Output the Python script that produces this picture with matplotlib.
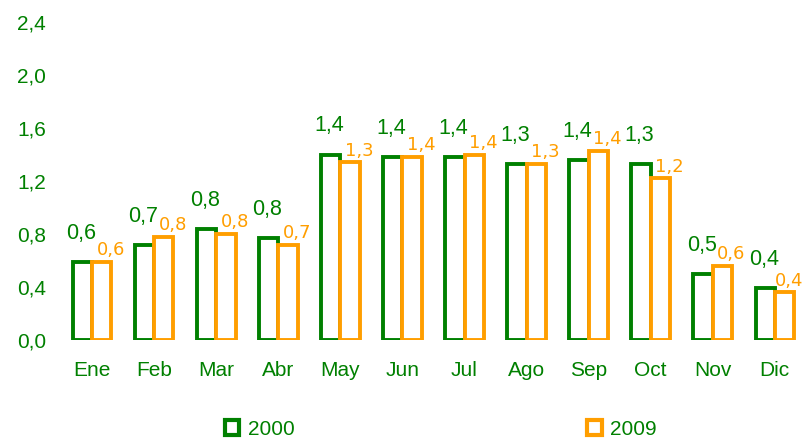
import matplotlib.pyplot as plt
import numpy as np
from matplotlib.patches import Patch

# Monthly values
meses = ["Ene", "Feb", "Mar", "Abr", "May", "Jun",
         "Jul", "Ago", "Sep", "Oct", "Nov", "Dic"]
v2000 = [0.59, 0.72, 0.84, 0.77, 1.40, 1.38, 1.38, 1.33, 1.36, 1.33, 0.50, 0.39]
v2009 = [0.59, 0.78, 0.80, 0.72, 1.34, 1.38, 1.40, 1.33, 1.43, 1.22, 0.56, 0.36]
yticks = [0.0, 0.4, 0.8, 1.2, 1.6, 2.0, 2.4]

VERDE = "#008000"
NARANJA = "#FF9E00"

fig = plt.figure(figsize=(8.05, 4.41), dpi=100)
ax = fig.add_axes([0.076, 0.229, 0.925, 0.721])

x = np.arange(len(meses))
w = 0.31
ax.bar(x - w / 2, v2000, w, facecolor="white", edgecolor=VERDE, linewidth=2.8)
ax.bar(x + w / 2, v2009, w, facecolor="white", edgecolor=NARANJA, linewidth=2.8)

def coma(v):
    return f"{v:.1f}".replace(".", ",")

for xi, a, b in zip(x, v2000, v2009):
    ax.annotate(coma(a), (xi - w / 2, a), xytext=(-1, 13), textcoords="offset points",
                ha="center", va="bottom", color=VERDE, fontsize=15.5,
                family="Liberation Sans")
    # last label sits against the right edge, like in the original
    dx = 3.5 if xi == x[-1] else 6.5
    ax.annotate(coma(b), (xi + w / 2, b), xytext=(dx, 2), textcoords="offset points",
                ha="center", va="bottom", color=NARANJA, fontsize=13,
                family="DejaVu Sans")

ax.set_xlim(-0.5, len(meses) - 0.5)
ax.set_ylim(0, 2.4)
ax.set_xticks(x)
ax.set_xticklabels(meses)
ax.set_yticks(yticks)
ax.set_yticklabels([coma(t) for t in yticks])
for lab in ax.get_xticklabels() + ax.get_yticklabels():
    lab.set_family("Liberation Sans")
    lab.set_fontsize(15)
    lab.set_color(VERDE)
ax.tick_params(axis="x", length=0, pad=15)
ax.tick_params(axis="y", length=0, pad=11)
for s in ax.spines.values():
    s.set_visible(False)

handles = [Patch(facecolor="white", edgecolor=VERDE, linewidth=3, label="2000"),
           Patch(facecolor="white", edgecolor=NARANJA, linewidth=3, label="2009")]
leg = fig.legend(handles=handles, loc="center", bbox_to_anchor=(0.5475, 0.027),
                 ncol=2, frameon=False, handlelength=0.7, handleheight=0.7,
                 handletextpad=0.4, columnspacing=14.05,
                 prop={"family": "Liberation Sans", "size": 15})
for t in leg.get_texts():
    t.set_color(VERDE)

fig.savefig("out.png", dpi=100)
